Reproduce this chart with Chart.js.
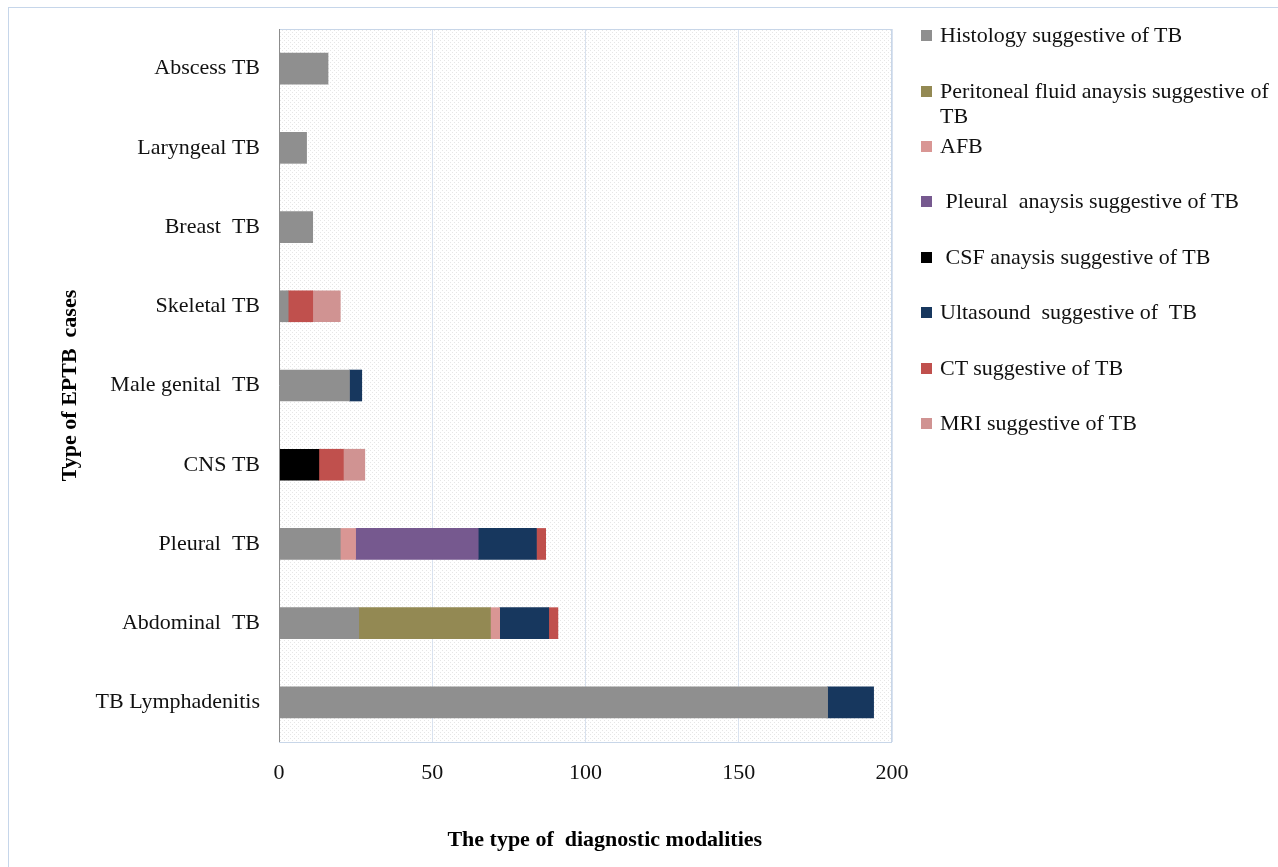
<!DOCTYPE html>
<html>
<head>
<meta charset="utf-8">
<script src="https://cdn.jsdelivr.net/npm/chart.js@4"></script>
<style>
  body { margin: 0; background: #fff; }
  #wrap { position: relative; width: 1278px; height: 867px; }
  #frame { position: absolute; left: 8px; top: 7px; width: 1290px; height: 880px; border: 1px solid #c6d6ea; box-sizing: border-box; }
  #c { position: absolute; left: 0; top: 0; }
  #legend { position: absolute; left: 921px; top: 22px; font-family: "Liberation Serif", serif; font-size: 22px; color: #111; }
  #legend .item { position: absolute; left: 0; white-space: pre; line-height: 25px; }
  #legend .box { position: absolute; left: 0; top: 8px; width: 11px; height: 11px; }
  #legend .txt { position: absolute; left: 19px; top: 0; }
</style>
</head>
<body>
<div id="wrap">
  <div id="frame"></div>
  <canvas id="c" width="1278" height="867"></canvas>
  <div id="legend"></div>
</div>
<script>
var categories = ["Abscess TB", "Laryngeal TB", "Breast  TB", "Skeletal TB", "Male genital  TB", "CNS TB", "Pleural  TB", "Abdominal  TB", "TB Lymphadenitis"];

var seriesNames = ["Histology suggestive of TB", "Peritoneal fluid anaysis suggestive of\nTB", "AFB", " Pleural  anaysis suggestive of TB", " CSF anaysis suggestive of TB", "Ultasound  suggestive of  TB", "CT suggestive of TB", "MRI suggestive of TB"];
var seriesColors = ["#8f8f8f", "#938953", "#d99694", "#76598f", "#000000", "#17375e", "#c0504d", "#d09392"];

// null = no bar segment for that case type
var histology  = [16, 9, 11, 3, 23, null, 20, 26, 179];
var peritoneal = [null, null, null, null, null, null, null, 43, null];
var afb        = [null, null, null, null, null, null, 5, 3, null];
var pleural    = [null, null, null, null, null, null, 40, null, null];
var csf        = [null, null, null, null, null, 13, null, null, null];
var ultrasound = [null, null, null, null, 4, null, 19, 16, 15];
var ct         = [null, null, null, 8, null, 8, 3, 3, null];
var mri        = [null, null, null, 9, null, 7, null, null, null];

var xTicks = [0, 50, 100, 150, 200];

var allSeries = [histology, peritoneal, afb, pleural, csf, ultrasound, ct, mri];

var datasets = allSeries.map(function (vals, i) {
  return {
    label: seriesNames[i],
    data: vals,
    backgroundColor: seriesColors[i],
    borderWidth: 0,
    barThickness: 31
  };
});

// dotted plot background
var pat = document.createElement("canvas");
pat.width = 4; pat.height = 4;
var pctx = pat.getContext("2d");
pctx.fillStyle = "#ffffff";
pctx.fillRect(0, 0, 4, 4);
pctx.fillStyle = "#e6e6e6";
pctx.fillRect(0, 0, 1, 1);
pctx.fillRect(2, 2, 1, 1);

var plotBg = {
  id: "plotBg",
  beforeDraw: function (chart) {
    var a = chart.chartArea, ctx = chart.ctx;
    ctx.save();
    ctx.fillStyle = ctx.createPattern(pat, "repeat");
    ctx.fillRect(a.left, a.top, a.right - a.left, a.bottom - a.top);
    ctx.restore();
  },
  afterDatasetsDraw: function (chart) {
    var a = chart.chartArea, ctx = chart.ctx;
    ctx.save();
    ctx.strokeStyle = "#c8d6e8";
    ctx.lineWidth = 1;
    ctx.strokeRect(a.left + 0.5, a.top + 0.5, a.right - a.left - 1, a.bottom - a.top);
    ctx.strokeStyle = "#8c8c8c";
    ctx.beginPath();
    ctx.moveTo(a.left + 0.5, a.top);
    ctx.lineTo(a.left + 0.5, a.bottom);
    ctx.stroke();
    ctx.restore();
  }
};

Chart.defaults.font.family = "'Liberation Serif', 'Times New Roman', serif";
Chart.defaults.color = "#111";

new Chart(document.getElementById("c").getContext("2d"), {
  type: "bar",
  data: { labels: categories, datasets: datasets },
  plugins: [plotBg],
  options: {
    indexAxis: "y",
    responsive: false,
    animation: false,
    layout: { padding: { left: 0, top: 29, right: 386, bottom: 0 } },
    plugins: {
      legend: { display: false },
      tooltip: { enabled: false }
    },
    scales: {
      x: {
        stacked: true,
        min: 0,
        max: 200,
        afterBuildTicks: function (s) { s.ticks = xTicks.map(function (v) { return { value: v }; }); },
        afterFit: function (s) { s.height = 125; },
        grid: { color: "#d9e2ef", drawTicks: false },
        border: { display: false },
        ticks: { font: { size: 22 }, padding: 18, color: "#111" },
        title: {
          display: true,
          text: "       The type of  diagnostic modalities",
          font: { size: 22, weight: "bold" },
          padding: { top: 4, bottom: 13 },
          color: "#000"
        }
      },
      y: {
        stacked: true,
        afterFit: function (s) { s.width = 279; s.paddingTop = 0; s.paddingBottom = 0; },
        grid: { display: false, drawTicks: false },
        border: { display: false },
        ticks: { font: { size: 22 }, padding: 19, color: "#111" },
        title: {
          display: true,
          text: "Type of EPTB  cases",
          font: { size: 22, weight: "bold" },
          padding: { top: 57, bottom: 4 },
          color: "#000"
        }
      }
    }
  }
});

// legend
var leg = document.getElementById("legend");
var legTops = [0, 56, 111, 166, 222, 277, 333, 388];
seriesNames.forEach(function (name, i) {
  var it = document.createElement("div");
  it.className = "item";
  it.style.top = legTops[i] + "px";
  var b = document.createElement("span");
  b.className = "box";
  b.style.background = seriesColors[i];
  var t = document.createElement("span");
  t.className = "txt";
  t.textContent = name;
  it.appendChild(b);
  it.appendChild(t);
  leg.appendChild(it);
});
</script>
</body>
</html>
